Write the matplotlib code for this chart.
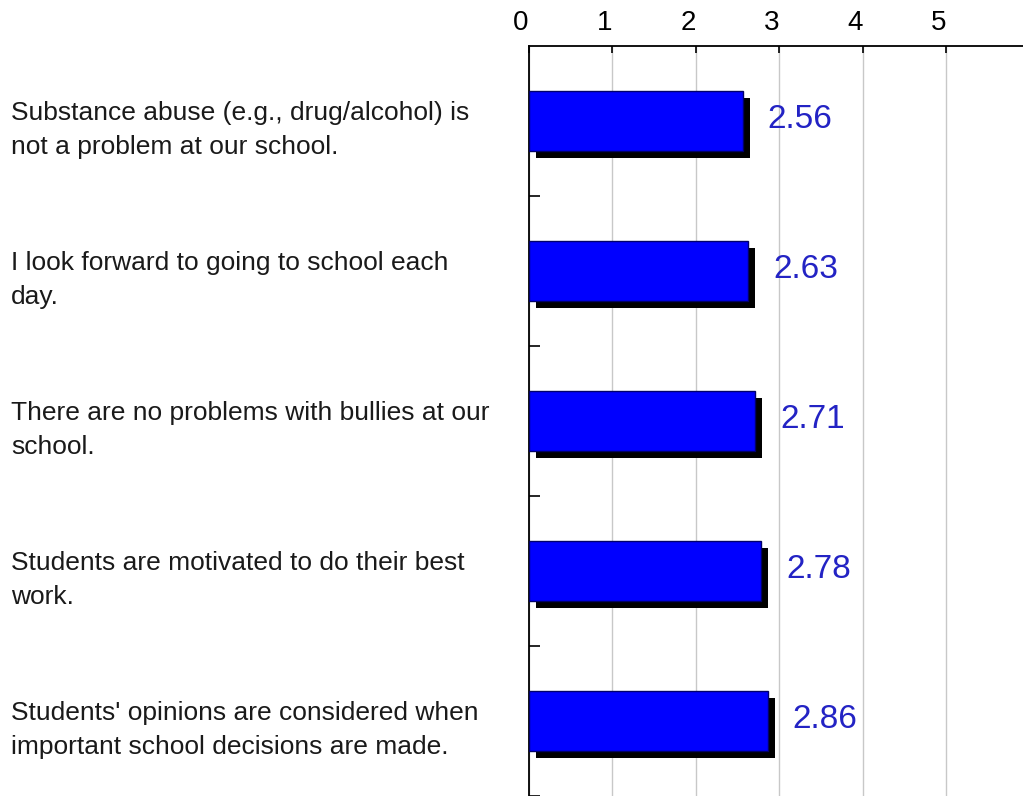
import matplotlib.pyplot as plt
import matplotlib.transforms as mtransforms

plt.rcParams['font.family'] = ['Liberation Sans', 'DejaVu Sans']

# Survey items and mean ratings
items = [
    "Substance abuse (e.g., drug/alcohol) is\nnot a problem at our school.",
    "I look forward to going to school each\nday.",
    "There are no problems with bullies at our\nschool.",
    "Students are motivated to do their best\nwork.",
    "Students' opinions are considered when\nimportant school decisions are made.",
]
means = [2.56, 2.63, 2.71, 2.78, 2.86]
xticks = [0, 1, 2, 3, 4, 5]

fig = plt.figure(figsize=(10.23, 7.96), dpi=100)
ax = fig.add_axes([0.517, 0.0, 0.483, 0.942])

ypos = list(range(len(items)))

# shadow bars, shifted right/down
shadow = ax.transData + mtransforms.ScaledTranslation(5 / 72, -5 / 72, fig.dpi_scale_trans)
ax.barh(ypos, means, height=0.4, color='black', transform=shadow, zorder=2)
ax.barh(ypos, means, height=0.4, color='#0000ff', edgecolor='#00006a', lw=1, zorder=3)

for y, v in zip(ypos, means):
    ax.annotate('%.2f' % v, (v, y), xytext=(18, 1), textcoords='offset points',
                ha='left', va='center', fontsize=24, color='#2323c4')

# category labels on the far left
lab_tr = mtransforms.blended_transform_factory(fig.transFigure, ax.transData)
for y, t in zip(ypos, items):
    ax.text(11 / 1023, y + 0.06, t, transform=lab_tr, ha='left', va='center',
            fontsize=19, color='#1a1a1a', linespacing=1.5)

ax.set_xlim(0, 5.92)
ax.set_ylim(len(items) - 0.5, -0.5)

# top axis, labels drawn a bit left of their ticks
ax.xaxis.tick_top()
ax.set_xticks(xticks)
ax.set_xticklabels([])
ax.tick_params(axis='x', direction='in', length=5, width=1.2, color='black')
tick_tr = ax.get_xaxis_transform() + mtransforms.ScaledTranslation(-8 / 100, 23 / 100, fig.dpi_scale_trans)
for t in xticks:
    ax.text(t, 1, str(t), transform=tick_tr, ha='center', va='center',
            fontsize=20, color='black', clip_on=False)
ax.grid(axis='x', color='#c8c8c8', lw=1, zorder=0)

ax.set_yticks([i + 0.5 for i in ypos])
ax.set_yticklabels([])
ax.tick_params(axis='y', direction='in', length=8, width=1.2)

for s in ['right', 'bottom']:
    ax.spines[s].set_visible(False)
for s in ['top', 'left']:
    ax.spines[s].set_linewidth(1.3)

fig.savefig('out.png', dpi=100)
